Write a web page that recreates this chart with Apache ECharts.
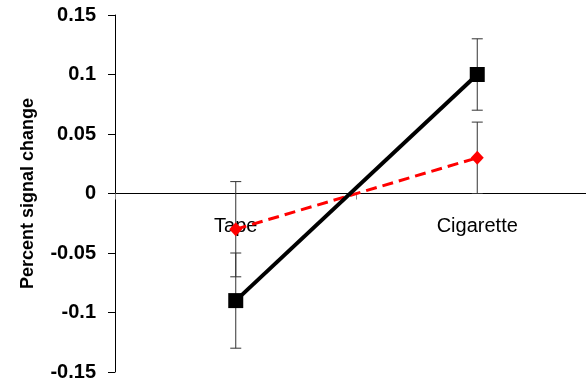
<!DOCTYPE html>
<html>
<head>
<meta charset="utf-8">
<script src="https://cdn.jsdelivr.net/npm/echarts@6/dist/echarts.min.js"></script>
<style>
  html, body { margin: 0; padding: 0; background: #fff; }
  #chart { width: 586px; height: 385px; }
</style>
</head>
<body>
<div id="chart"></div>
<script>
// Conditions on the horizontal axis
const categories = ['Tape', 'Cigarette'];

// Mean percent signal change per condition, with symmetric error half-widths
const blackMeans = [-0.09, 0.10];
const blackErrors = [0.04, 0.03];
const redMeans = [-0.03, 0.03];
const redErrors = [0.04, 0.03];

// Vertical axis range and spacing
const yMin = -0.15;
const yMax = 0.15;
const yStep = 0.05;

const FONT = 'Liberation Sans, Arial, sans-serif';

// Plot box; the category axis sits on the zero line, halfway down (range is symmetric)
const GRID_TOP = 15;
const GRID_BOTTOM = 13;
const CHART_H = 385;
const zeroOffset = -(CHART_H - GRID_TOP - GRID_BOTTOM) / 2;

function errorBarData(means, errors) {
  return means.map((m, i) => [i, m - errors[i], m + errors[i]]);
}

function renderErrorBar(params, api) {
  const x = api.value(0);
  const lo = api.coord([x, api.value(1)]);
  const hi = api.coord([x, api.value(2)]);
  const half = 5.5;
  const style = { stroke: '#333', lineWidth: 1, fill: null };
  return {
    type: 'group',
    children: [
      { type: 'line', shape: { x1: lo[0], y1: lo[1], x2: hi[0], y2: hi[1] }, style },
      { type: 'line', shape: { x1: lo[0] - half, y1: lo[1], x2: lo[0] + half, y2: lo[1] }, style },
      { type: 'line', shape: { x1: hi[0] - half, y1: hi[1], x2: hi[0] + half, y2: hi[1] }, style }
    ]
  };
}

const chart = echarts.init(document.getElementById('chart'), null, { renderer: 'canvas' });

chart.setOption({
  animation: false,
  backgroundColor: '#ffffff',
  grid: { left: 115, right: -12, top: GRID_TOP, bottom: GRID_BOTTOM, containLabel: false, outerBoundsMode: 'none' },
  xAxis: {
    type: 'category',
    data: categories,
    boundaryGap: true,
    position: 'bottom',
    offset: zeroOffset,
    axisLine: { onZero: false, lineStyle: { color: '#000', width: 1 } },
    axisTick: { show: true, length: 6, lineStyle: { color: '#888' } },
    axisLabel: { color: '#000', fontFamily: FONT, fontSize: 20, margin: 23 },
    splitLine: { show: false }
  },
  yAxis: {
    type: 'value',
    min: yMin,
    max: yMax,
    interval: yStep,
    name: 'Percent signal change',
    nameLocation: 'middle',
    nameGap: 78,
    nameTextStyle: { color: '#000', fontFamily: FONT, fontSize: 18, fontWeight: 'bold' },
    axisLine: { show: true, lineStyle: { color: '#000', width: 1 } },
    axisTick: { show: true, length: 7, lineStyle: { color: '#000' } },
    axisLabel: {
      color: '#000', fontFamily: FONT, fontSize: 20, fontWeight: 'bold', margin: 19,
      formatter: v => String(Math.round(v * 100) / 100)
    },
    splitLine: { show: false }
  },
  series: [
    {
      type: 'custom',
      renderItem: renderErrorBar,
      data: errorBarData(blackMeans, blackErrors),
      z: 1
    },
    {
      type: 'custom',
      renderItem: renderErrorBar,
      data: errorBarData(redMeans, redErrors),
      z: 1
    },
    {
      type: 'line',
      data: redMeans,
      symbol: 'diamond',
      symbolSize: [13, 14],
      itemStyle: { color: '#ff0000' },
      lineStyle: { color: '#ff0000', width: 3, type: [11, 6] },
      z: 3
    },
    {
      type: 'line',
      data: blackMeans,
      symbol: 'rect',
      symbolSize: 15,
      itemStyle: { color: '#000' },
      lineStyle: { color: '#000', width: 4 },
      z: 4
    }
  ]
});
</script>
</body>
</html>
